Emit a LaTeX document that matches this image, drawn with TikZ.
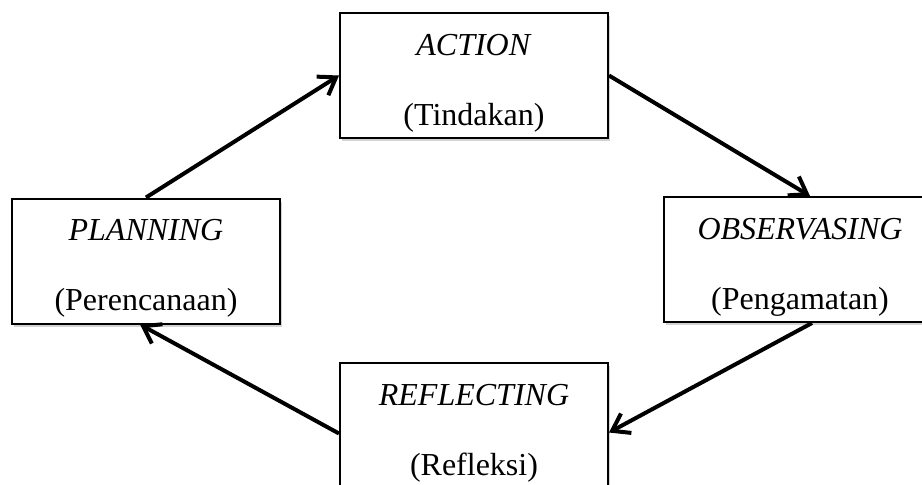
\documentclass[tikz,border=0pt]{standalone}
\usepackage{fontspec}
\setmainfont{Liberation Serif}
\usetikzlibrary{arrows.meta,shadows}

\begin{document}
\begin{tikzpicture}[x=0.5pt,y=-0.5pt,
  every node/.style={font=\fontsize{16}{19}\selectfont},
  stage/.style={draw,line width=1pt,fill=white,minimum width=134pt,minimum height=62.5pt,
    align=center,inner sep=0pt,
    drop shadow={shadow xshift=1pt,shadow yshift=-1.5pt,opacity=0.35}},
  flow/.style={line width=2pt,-{Straight Barb[length=8pt,width=11pt]}}]
  \useasboundingbox (0,0) rectangle (922,484);

  \node (act) at (474,75.5)[stage]{\rule{0pt}{18pt}\textit{ACTION}\\[16pt](Tindakan)};
  \node (plan) at (146,261)[stage]{\rule{0pt}{18pt}\textit{PLANNING}\\[16pt](Perencanaan)};
  \node (obs) at (800,259.5)[stage,minimum width=136pt]{\rule{0pt}{18pt}\textit{OBSERVASING}\\[16pt](Pengamatan)};
  \node (refl) at (474,425.5)[stage]{\rule{0pt}{18pt}\textit{REFLECTING}\\[16pt](Refleksi)};

  \draw[flow] (plan.north) -- (act.west);
  \draw[flow] (act.east) -- ([xshift=5pt]obs.north);
  \draw[flow] ([xshift=6pt]obs.south) -- ([yshift=-3.5pt]refl.east);
  \draw[flow] ([yshift=-4pt]refl.west) -- ([xshift=-3pt]plan.south);
\end{tikzpicture}
\end{document}
